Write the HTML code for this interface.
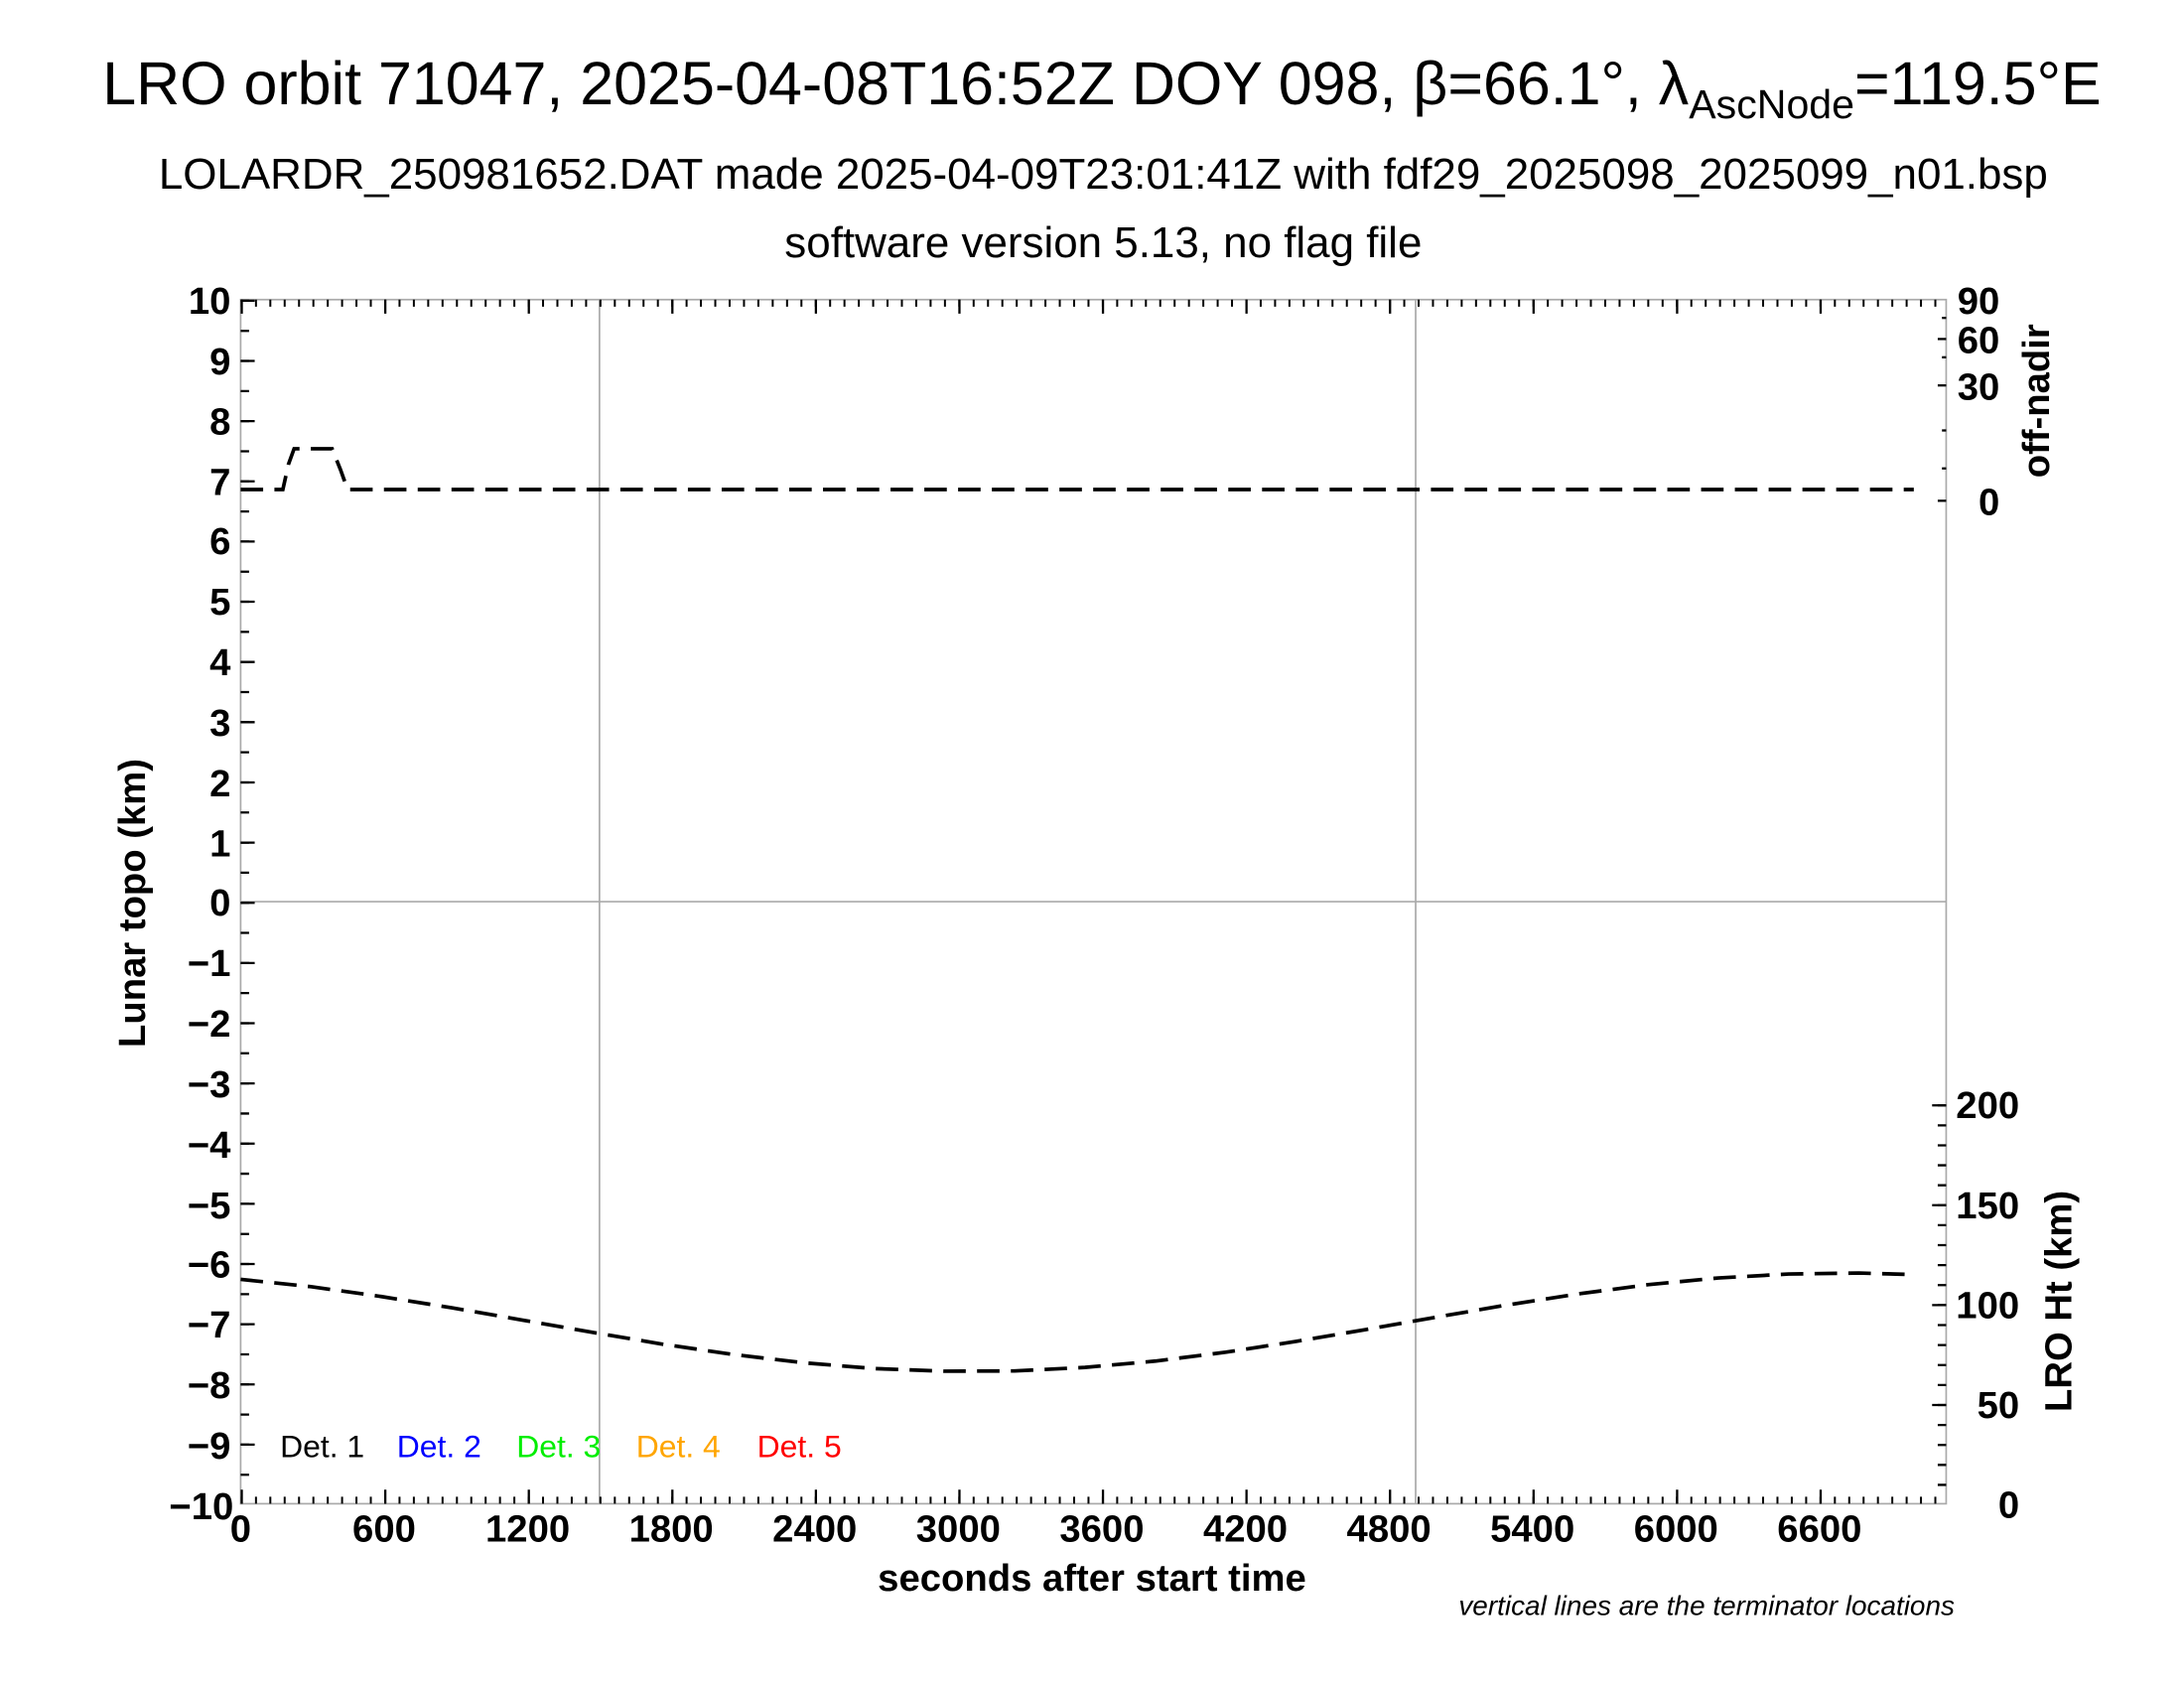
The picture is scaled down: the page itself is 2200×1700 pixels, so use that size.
<!DOCTYPE html>
<html><head><meta charset="utf-8"><style>html,body{margin:0;padding:0;background:#fff}svg{display:block}</style></head>
<body>
<svg width="2200" height="1700" viewBox="0 0 1552 1200" preserveAspectRatio="none" xmlns="http://www.w3.org/2000/svg" font-family="Liberation Sans, sans-serif">
<rect width="1552" height="1200" fill="#fff"/>
<!-- titles -->
<text x="783" y="74" font-size="43" text-anchor="middle">LRO orbit 71047, 2025-04-08T16:52Z DOY 098, β=66.1°, λ<tspan font-size="29" dy="10">AscNode</tspan><tspan dy="-10">=119.5°E</tspan></text>
<text x="784" y="134" font-size="31" text-anchor="middle">LOLARDR_250981652.DAT made 2025-04-09T23:01:41Z with fdf29_2025098_2025099_n01.bsp</text>
<text x="784" y="183" font-size="31" text-anchor="middle">software version 5.13, no flag file</text>
<!-- frame -->
<g stroke="#aaa" stroke-width="1.2" fill="none">
<rect x="171" y="213" width="1212" height="856"/>
<line x1="171" y1="641" x2="1383" y2="641"/>
<line x1="426" y1="213" x2="426" y2="1069"/>
<line x1="1006" y1="213" x2="1006" y2="1069"/>
</g>
<g stroke="#000">
<line x1="171" y1="1066.5" x2="1383" y2="1066.5" stroke-width="5" stroke-dasharray="1.4 8.8"/>
<line x1="171" y1="215.5" x2="1383" y2="215.5" stroke-width="5" stroke-dasharray="1.4 8.8"/>
<line x1="171" y1="1064" x2="1383" y2="1064" stroke-width="10" stroke-dasharray="1.6 100.4"/>
<line x1="171" y1="218" x2="1383" y2="218" stroke-width="10" stroke-dasharray="1.6 100.4"/>
<line x1="174" y1="213" x2="174" y2="1069" stroke-width="6" stroke-dasharray="1.6 19.8"/>
<line x1="176" y1="213" x2="176" y2="1069" stroke-width="10" stroke-dasharray="1.6 41.2"/>
<line x1="1380" y1="785" x2="1380" y2="1069" stroke-width="6" stroke-dasharray="1.6 12.6"/>
<line x1="1378" y1="785" x2="1378" y2="1069" stroke-width="10" stroke-dasharray="1.6 69.4"/>
<g stroke-width="1.6">
<line x1="1377" y1="241" x2="1383" y2="241"/><line x1="1377" y1="274" x2="1383" y2="274"/><line x1="1377" y1="356" x2="1383" y2="356"/>
<line x1="1380" y1="226" x2="1383" y2="226"/><line x1="1380" y1="254" x2="1383" y2="254"/><line x1="1380" y1="306" x2="1383" y2="306"/><line x1="1380" y1="333" x2="1383" y2="333"/>
</g>
</g>
<!-- tick labels -->
<g font-size="27" font-weight="bold" text-anchor="end">
<text x="164" y="223">10</text><text x="164" y="266">9</text><text x="164" y="309">8</text><text x="164" y="352">7</text><text x="164" y="394">6</text><text x="164" y="437">5</text><text x="164" y="480">4</text><text x="164" y="523">3</text><text x="164" y="566">2</text><text x="164" y="609">1</text><text x="164" y="651">0</text>
<text x="164" y="694">−1</text><text x="164" y="737">−2</text><text x="164" y="780">−3</text><text x="164" y="823">−4</text><text x="164" y="866">−5</text><text x="164" y="908">−6</text><text x="164" y="951">−7</text><text x="164" y="994">−8</text><text x="164" y="1037">−9</text><text x="166" y="1080">−10</text>
</g>
<g font-size="27" font-weight="bold" text-anchor="middle">
<text x="171" y="1096">0</text><text x="273" y="1096">600</text><text x="375" y="1096">1200</text><text x="477" y="1096">1800</text><text x="579" y="1096">2400</text><text x="681" y="1096">3000</text><text x="783" y="1096">3600</text><text x="885" y="1096">4200</text><text x="987" y="1096">4800</text><text x="1089" y="1096">5400</text><text x="1191" y="1096">6000</text><text x="1293" y="1096">6600</text>
</g>
<g font-size="27" font-weight="bold" text-anchor="end">
<text x="1421" y="223">90</text><text x="1421" y="251">60</text><text x="1421" y="284">30</text><text x="1421" y="366">0</text>
<text x="1435" y="795">200</text><text x="1435" y="866">150</text><text x="1435" y="937">100</text><text x="1435" y="1008">50</text><text x="1435" y="1079">0</text>
</g>
<text x="776" y="1131" font-size="27" font-weight="bold" text-anchor="middle">seconds after start time</text>
<text transform="translate(103,642) rotate(-90)" font-size="27" font-weight="bold" text-anchor="middle">Lunar topo (km)</text>
<text transform="translate(1456,285) rotate(-90)" font-size="27" font-weight="bold" text-anchor="middle">off-nadir</text>
<text transform="translate(1472,925) rotate(-90)" font-size="27" font-weight="bold" text-anchor="middle">LRO Ht (km)</text>
<text x="1389" y="1148" font-size="19.7" font-style="italic" text-anchor="end">vertical lines are the terminator locations</text>
<!-- legend -->
<g font-size="22.5">
<text x="199" y="1036" fill="#000">Det. 1</text>
<text x="282" y="1036" fill="#0000ff">Det. 2</text>
<text x="367" y="1036" fill="#00ee00">Det. 3</text>
<text x="452" y="1036" fill="#ffa500">Det. 4</text>
<text x="538" y="1036" fill="#ff0000">Det. 5</text>
</g>
<!-- series -->
<g fill="none" stroke="#000" stroke-width="2.6" stroke-dasharray="16 8">
<polyline points="171,348 201,348 205,330 209,319 236,319 242,334 247,348 1360,348"/>
<polyline points="171,909.5 221,914.7 271,921.7 321,929.7 371,938.4 421,947.2 471,955.6 521,962.9 571,968.8 621,972.9 671,974.8 721,974.6 771,972.1 821,967.6 871,961.3 921,953.6 971,945.1 1021,936.3 1071,927.7 1121,919.9 1171,913.3 1221,908.5 1271,905.7 1321,905 1360,906.1"/>
</g>
</svg>
</body></html>
